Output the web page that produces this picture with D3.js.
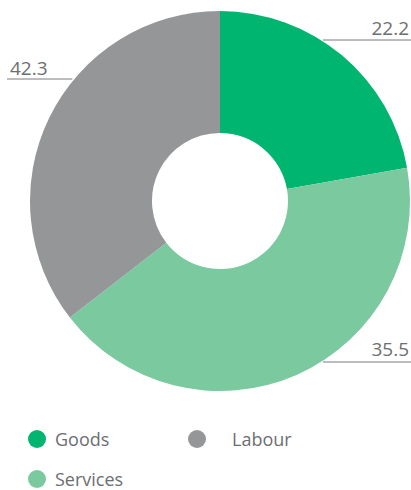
<!DOCTYPE html>
<html><head><meta charset="utf-8">
<script src="https://cdn.jsdelivr.net/npm/d3@7"></script>
<style>body{margin:0;background:#fff}svg{display:block}text{font-family:"Open Sans",sans-serif;fill:#6d6e71}</style>
</head><body><svg id="c" width="411" height="490"></svg>
<script>
const categories = ["Goods", "Services", "Labour"];
const values = [22.2, 42.3, 35.5];
const colors = ["#00b56f", "#7bc99f", "#959698"];
const labelText = ["22.2", "35.5", "42.3"];

const svg = d3.select("#c");
const cx = 220, cy = 201, rOuter = 190, rInner = 68;
const pie = d3.pie().sort(null).value(d => d)(values);
const arc = d3.arc().innerRadius(rInner).outerRadius(rOuter);
const g = svg.append("g").attr("transform", `translate(${cx},${cy})`);
g.selectAll("path").data(pie).join("path").attr("d", arc).attr("fill", (d,i)=>colors[i]);

const leaders = [
  {t:0, y:40, side:"right", textY:35},
  {t:1, y:362, side:"right", textY:356},
  {t:2, y:79, side:"left", textY:75}
];
leaders.forEach(l => {
  const dy = l.y - cy;
  const dx = Math.sqrt(rOuter*rOuter - dy*dy);
  const xEdge = l.side === "right" ? cx + dx + 2 : cx - dx - 2;
  const xEnd = l.side === "right" ? 411 : 7;
  svg.append("line").attr("x1", xEdge).attr("x2", xEnd).attr("y1", l.y).attr("y2", l.y)
    .attr("stroke", "#7a7b7d").attr("stroke-width", 1);
  svg.append("text").attr("x", l.side === "right" ? 409 : 10).attr("y", l.textY)
    .attr("text-anchor", l.side === "right" ? "end" : "start")
    .attr("font-size", 19).text(labelText[l.t]);
});

const legendPos = [{x:37, y:439}, {x:37, y:479}, {x:197, y:439}];
const textOffset = [18, 18, 35];
categories.forEach((c, i) => {
  const p = legendPos[i];
  svg.append("circle").attr("cx", p.x).attr("cy", p.y).attr("r", 9).attr("fill", colors[i]);
  svg.append("text").attr("x", p.x + textOffset[i]).attr("y", p.y + 7).attr("font-size", 18).text(c);
});
</script></body></html>
